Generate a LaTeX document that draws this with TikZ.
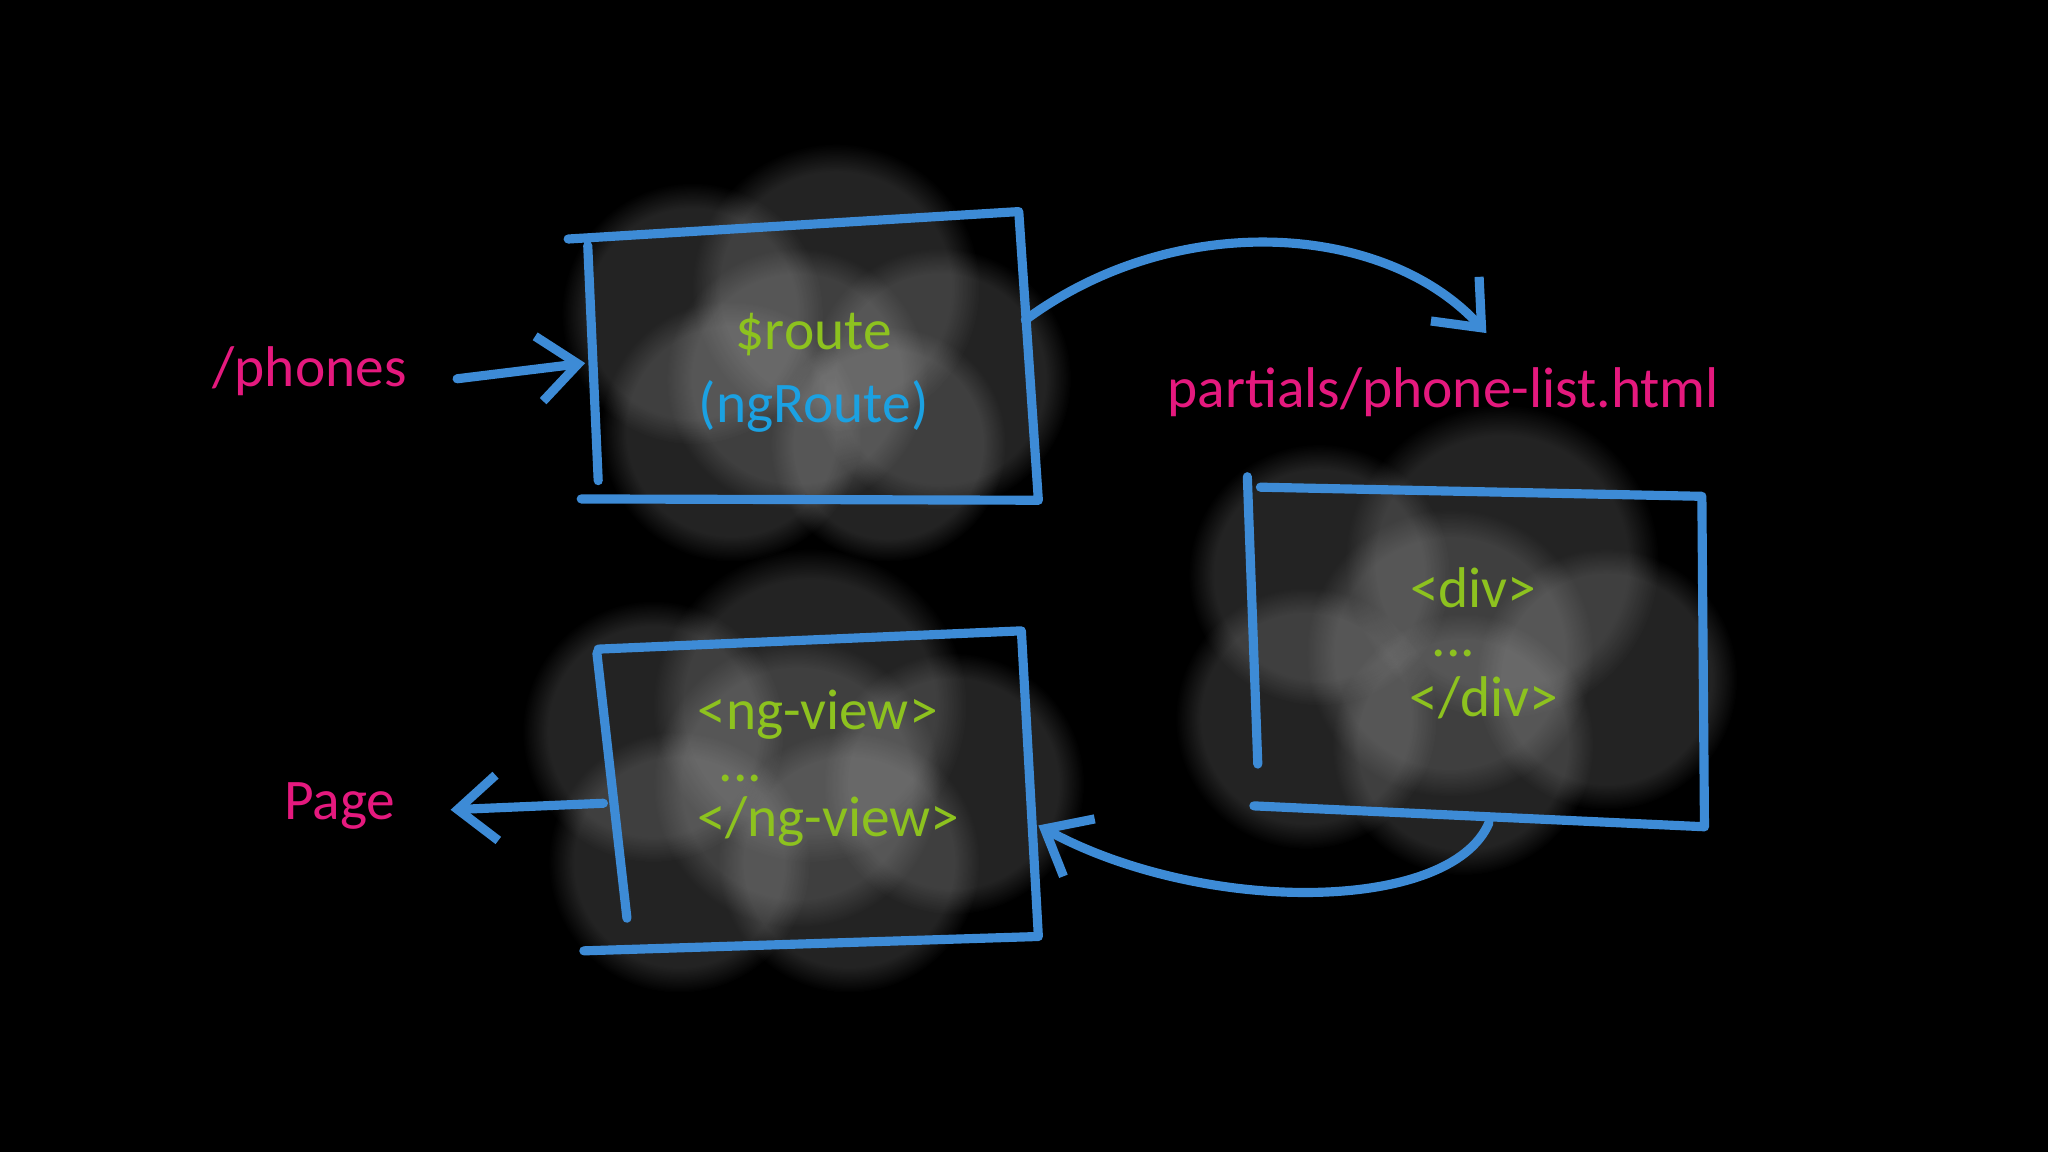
\documentclass[tikz,border=0pt]{standalone}
\usepackage{fontspec}
\setmainfont{Carlito}
\usetikzlibrary{arrows.meta,fadings}
\definecolor{pk}{HTML}{E5197E}
\definecolor{gr}{HTML}{8DC21F}
\definecolor{bt}{HTML}{1BA1E2}
\definecolor{bx}{HTML}{3D8BD6}
\tikzset{
 edge/.style={bx, line width=0.7mm, line cap=round, line join=round},
 arr/.style={edge,-{Straight Barb[length=3mm,width=5mm]}},
 lbl/.style={font=\fontsize{12.5}{15}\selectfont},
 cl/.style={fill=gray!60, fill opacity=0.2, path fading=circle with fuzzy edge 20 percent, draw=none}
}
\begin{document}
\begin{tikzpicture}[x=0.01cm,y=-0.01cm]
\fill[black] (0,0) rectangle (1568,882);
\useasboundingbox (0,0) rectangle (1568,882);
% clouds
\foreach \x/\y/\r in {530/240/100,640/220/110,720/290/100,560/330/100,680/340/90,610/290/100}{\path[cl] (\x,\y) circle (\r);}
\foreach \x/\y/\r in {1010/440/100,1150/430/120,1230/520/100,1000/550/100,1120/570/100,1110/500/110}{\path[cl] (\x,\y) circle (\r);}
\foreach \x/\y/\r in {500/560/100,620/540/120,730/600/100,520/660/100,650/660/100,610/600/110}{\path[cl] (\x,\y) circle (\r);}
% boxes
\draw[edge] (435,183) -- (780,162) -- (795,383) (445,382) -- (795,383) (450,188) -- (458,368);
\draw[edge] (965,373) -- (1303,380) -- (1305,633) (960,617) -- (1305,633) (955,365) -- (963,585);
\draw[edge] (458,497) -- (782,483) -- (795,717) (447,728) -- (795,717) (457,500) -- (480,703);
% texts
\node[lbl,text=gr] (r1) at (623,256) {\$route};
\node[lbl,text=bt] (r2) at (623,311) {(ngRoute)};
\node[lbl,text=pk] (ph) at (237,284) {/phones};
\node[lbl,text=pk] (pl) at (1105,300) {partials/phone-list.html};
\node[lbl,text=gr] (d1) at (1128,450) {<div>};
\node[lbl,text=gr,inner sep=0pt] (d2) at (1113,500) {...};
\node[lbl,text=gr] (d3) at (1136,534) {</div>};
\node[lbl,text=gr] (n1) at (626,547) {<ng-view>};
\node[lbl,text=gr,inner sep=0pt] (n2) at (567,596) {...};
\node[lbl,text=gr] (n3) at (634,629) {</ng-view>};
\node[lbl,text=pk] (pg) at (260,617) {Page};
% connectors
\coordinate (a1) at (350,290); \coordinate (a2) at (448,278);
\draw[arr] (a1) -- (a2);
\coordinate (b1) at (785,245); \coordinate (b2) at (1138,255);
\draw[arr] (b1) .. controls (900,160) and (1060,170) .. (b2);
\coordinate (c1) at (462,615); \coordinate (c2) at (345,620);
\draw[arr] (c1) -- (c2);
\coordinate (e1) at (1140,630); \coordinate (e2) at (795,632);
\draw[arr] (e1) .. controls (1110,700) and (920,700) .. (e2);
\end{tikzpicture}
\end{document}
